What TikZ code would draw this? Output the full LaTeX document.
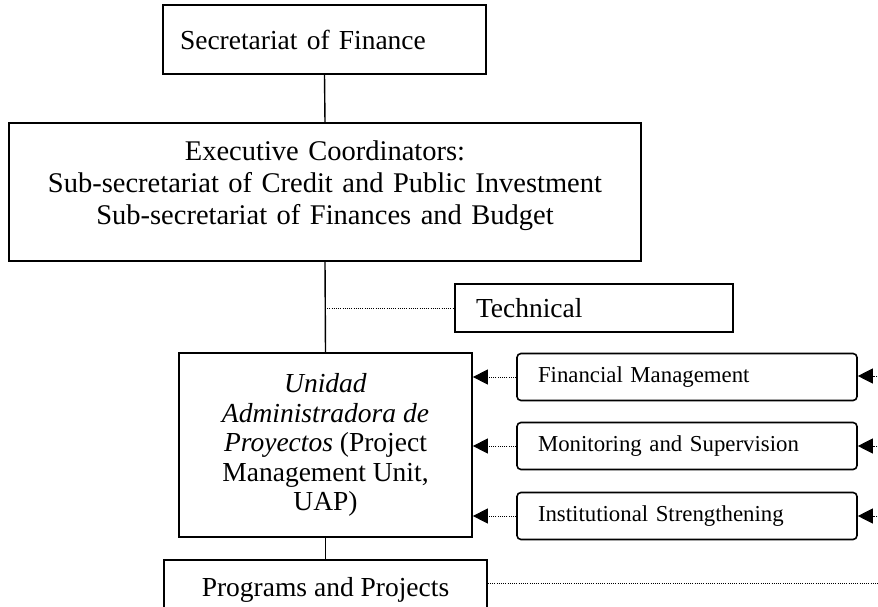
\documentclass[tikz,border=0pt]{standalone}
\usepackage{fontspec}
\setmainfont{Liberation Serif}
\usetikzlibrary{arrows.meta}

\begin{document}
\begin{tikzpicture}[x=1pt,y=-1pt,
  unit/.style={draw,line width=1.7pt,inner sep=0pt,font=\fontsize{27.5}{31}\selectfont},
  task/.style={draw,line width=1.6pt,rounded corners=4pt,inner ysep=0pt,inner xsep=21pt,
    minimum width=340pt,minimum height=47pt,text width=298pt,align=left,
    font=\fontsize{22.8}{26}\selectfont},
  link/.style={line width=1.4pt},
  dotline/.style={line width=1pt,dash pattern=on 1pt off 1.2pt},
  dotarrow/.style={dotline,-{Triangle[length=15pt,width=15pt]}}]
\useasboundingbox (0,0) rectangle (878,607);
\clip (0,0) rectangle (878,607);

% organisational units
\node[unit,minimum width=323pt,minimum height=69pt,inner xsep=17pt,
  text width=289pt,align=left] (sec) at (324.5,39.5) {Secretariat of Finance};
% the deep strut on the last line lifts the three lines a little above centre
\node[unit,minimum width=632pt,minimum height=138pt,text width=620pt,align=center,
  font=\fontsize{28.5}{32}\selectfont] (exec) at (325,192)
  {Executive Coordinators:\\Sub-secretariat of Credit and Public Investment\\
   Sub-secretariat of Finances and Budget\rule[-18pt]{0pt}{1pt}};
\node[unit,minimum width=278pt,minimum height=48pt,inner xsep=21pt,
  text width=236pt,align=left] (tech) at (594,308) {Technical};
\node[unit,minimum width=293pt,minimum height=184pt,align=center,
  font=\fontsize{27.5}{29.5}\selectfont] (uap) at (325.5,445)
  {\textit{Unidad}\\\textit{Administradora de}\\\textit{Proyectos} (Project\\
   Management Unit,\\UAP)};
\node[unit,minimum width=323pt,minimum height=60pt,align=center] (prog) at (325.5,590)
  {Programs and Projects};

% support areas
\node[task] (fin)  at (687,377) {Financial Management};
\node[task] (mon)  at (687,446) {Monitoring and Supervision};
\node[task] (inst) at (687,516) {Institutional Strengthening};

% free ends of the links leaving the picture on the right
\coordinate (finR)  at (895,376);
\coordinate (monR)  at (895,446);
\coordinate (instR) at (895,516);
\coordinate (progR) at (880,583);

% hierarchy
\draw[link] (sec.south) -- (exec.north);
\draw[link] (exec.south) -- (uap.north);
\draw[link] (uap.south) -- (prog.north);

% dotted relations
\draw[dotline] (exec.south |- tech.west) -- (tech.west);
\draw[dotarrow] (fin.west) -- (fin.west -| uap.east);
\draw[dotarrow] (mon.west) -- (mon.west -| uap.east);
\draw[dotarrow] (inst.west) -- (inst.west -| uap.east);
\draw[dotarrow] (finR) -- (finR -| fin.east);
\draw[dotarrow] (monR) -- (monR -| mon.east);
\draw[dotarrow] (instR) -- (instR -| inst.east);
\draw[dotline] (prog.east |- progR) -- (progR);
\end{tikzpicture}
\end{document}
